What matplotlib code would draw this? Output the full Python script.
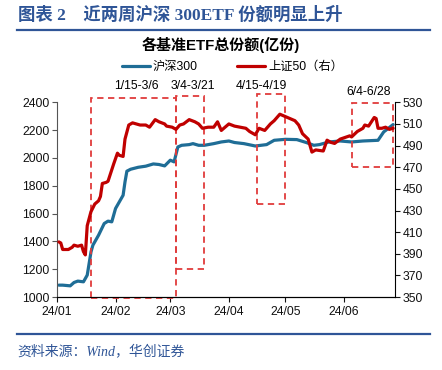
import matplotlib
matplotlib.use("Agg")
import matplotlib.pyplot as plt
import matplotlib.dates as mdates
from matplotlib.patches import Rectangle
import pandas as pd

plt.rcParams['font.family'] = ['Liberation Sans', 'Noto Sans CJK SC']
plt.rcParams['axes.unicode_minus'] = False

# 沪深300 ETF total shares (left axis, 亿份)
hs300_dates = ['2024-01-02', '2024-01-04', '2024-01-08', '2024-01-10', '2024-01-12', '2024-01-15',
               '2024-01-17', '2024-01-19', '2024-01-20', '2024-01-23', '2024-01-26', '2024-01-28',
               '2024-01-30', '2024-02-01', '2024-02-05', '2024-02-06', '2024-02-07', '2024-02-09',
               '2024-02-13', '2024-02-17', '2024-02-21', '2024-02-24', '2024-02-27', '2024-03-01',
               '2024-03-03', '2024-03-05', '2024-03-07', '2024-03-11', '2024-03-13', '2024-03-16',
               '2024-03-19', '2024-03-24', '2024-03-28', '2024-04-01', '2024-04-04', '2024-04-09',
               '2024-04-15', '2024-04-21', '2024-04-25', '2024-05-01', '2024-05-07', '2024-05-12',
               '2024-05-16', '2024-05-19', '2024-05-24', '2024-05-30', '2024-06-05', '2024-06-11',
               '2024-06-19', '2024-06-22', '2024-06-27']
hs300_vals = [1086, 1086, 1081, 1105, 1115, 1110,
              1158, 1325, 1373, 1445, 1529, 1546,
              1541, 1637, 1732, 1828, 1905, 1919,
              1933, 1941, 1957, 1953, 1943, 1984,
              1972, 2079, 2091, 2096, 2103, 2091,
              2091, 2103, 2115, 2122, 2111, 2103,
              2086, 2096, 2127, 2134, 2132, 2111,
              2091, 2096, 2115, 2122, 2115, 2122,
              2127, 2187, 2240]

# 上证50 ETF total shares (right axis, 亿份)
sz50_dates = ['2024-01-02', '2024-01-03', '2024-01-04', '2024-01-07', '2024-01-09', '2024-01-10',
              '2024-01-12', '2024-01-14', '2024-01-15', '2024-01-16', '2024-01-17', '2024-01-19',
              '2024-01-21', '2024-01-23', '2024-01-24', '2024-01-25', '2024-01-27', '2024-01-28',
              '2024-01-31', '2024-02-02', '2024-02-03', '2024-02-05', '2024-02-06', '2024-02-08',
              '2024-02-10', '2024-02-14', '2024-02-17', '2024-02-19', '2024-02-22', '2024-02-24',
              '2024-02-27', '2024-02-28', '2024-03-02', '2024-03-04', '2024-03-06', '2024-03-08',
              '2024-03-11', '2024-03-14', '2024-03-16', '2024-03-18', '2024-03-21', '2024-03-24',
              '2024-03-26', '2024-03-28', '2024-03-30', '2024-04-01', '2024-04-04', '2024-04-07',
              '2024-04-10', '2024-04-12', '2024-04-15', '2024-04-17', '2024-04-20', '2024-04-23',
              '2024-04-25', '2024-04-28', '2024-05-02', '2024-05-06', '2024-05-08', '2024-05-10',
              '2024-05-13', '2024-05-14', '2024-05-15', '2024-05-17', '2024-05-21', '2024-05-23',
              '2024-05-25', '2024-05-27', '2024-05-30', '2024-06-04', '2024-06-05', '2024-06-08',
              '2024-06-11', '2024-06-12', '2024-06-14', '2024-06-17', '2024-06-18', '2024-06-19',
              '2024-06-21', '2024-06-23', '2024-06-25', '2024-06-27']
sz50_vals = [401, 400, 394, 394, 396, 398,
             397, 398, 392, 389, 416, 429,
             436, 439, 443, 455, 456, 457,
             473, 483, 481, 480, 496, 509,
             511, 509, 509, 507, 514, 512,
             510, 508, 507, 505, 509, 510,
             514, 512, 510, 506, 507, 507,
             512, 504, 507, 510, 508, 507,
             506, 503, 500, 506, 504, 510,
             513, 519, 516, 513, 509, 501,
             496, 490, 484, 486, 485, 495,
             493, 492, 496, 499, 498, 503,
             506, 509, 508, 516, 515, 506,
             506, 507, 505, 506]

# highlighted windows: label, start, end, top / bottom (left-axis units)
box_labels = ['1/15-3/6', '3/4-3/21', '4/15-4/19', '6/4-6/28']
box_start = ['2024-01-19', '2024-03-04', '2024-04-16', '2024-06-05']
box_end = ['2024-03-04', '2024-03-19', '2024-05-01', '2024-06-27']
box_top = [2431, 2447, 2462, 2398]
box_bottom = [991, 1201, 1671, 1933]
label_x = ['2024-02-12', '2024-03-13', '2024-04-18', '2024-06-14']
label_y = [2515, 2515, 2515, 2472]

blue = '#1f6d96'
red = '#c00000'
box_red = '#e03c3c'
navy = '#2f5597'

fig = plt.figure(figsize=(4.42, 3.70), dpi=100)
ax = fig.add_axes([0.129, 0.197, 0.7647, 0.5265])
ax2 = ax.twinx()

ax.plot(pd.to_datetime(hs300_dates), hs300_vals, color=blue, lw=2.3, label='沪深300',
        solid_joinstyle='round', solid_capstyle='round')
ax2.plot(pd.to_datetime(sz50_dates), sz50_vals, color=red, lw=2.3, label='上证50（右）',
         solid_joinstyle='round', solid_capstyle='round')

ax.set_xlim(pd.Timestamp('2024-01-01'), pd.Timestamp('2024-06-28'))
ax.set_ylim(1000, 2400)
ax.set_yticks(range(1000, 2401, 200))
ax2.set_ylim(350, 530)
ax2.set_yticks(range(350, 531, 20))
ax.xaxis.set_major_locator(mdates.MonthLocator())
ax.xaxis.set_major_formatter(mdates.DateFormatter('%y/%m'))

for a in (ax, ax2):
    a.spines['top'].set_visible(False)
    a.tick_params(labelsize=8.8, length=3.5, width=0.8, colors='#111111', pad=2)
ax.spines['right'].set_visible(False)
ax.spines['left'].set_color('#555555')
ax2.spines['left'].set_visible(False)
ax2.spines['right'].set_color('black')
ax.tick_params(axis='y', color='#555555')
ax.tick_params(axis='x', pad=3)

for lab, s, e, t, b, lx, ly in zip(box_labels, box_start, box_end, box_top, box_bottom, label_x, label_y):
    x0 = mdates.date2num(pd.Timestamp(s))
    x1 = mdates.date2num(pd.Timestamp(e))
    ax.add_patch(Rectangle((x0, b), x1 - x0, t - b, fill=False, edgecolor=box_red,
                           lw=1.3, linestyle=(0, (3.5, 2.5)), clip_on=False, zorder=5))
    ax.text(pd.Timestamp(lx), ly, lab, ha='center', va='center', fontsize=8.8, clip_on=False)

h1, l1 = ax.get_legend_handles_labels()
h2, l2 = ax2.get_legend_handles_labels()
fig.legend(h1 + h2, l1 + l2, loc='center', bbox_to_anchor=(0.526, 0.819), ncol=2,
           frameon=False, fontsize=8.8, handlelength=2.3, handletextpad=0.25, columnspacing=3.2)

fig.text(0.5, 1 - 45 / 370, '各基准ETF总份额(亿份)', ha='center', va='center',
         fontsize=10.8, fontweight='bold')

fig.text(0.04, 1 - 15 / 370, '图表 2    近两周沪深 300ETF 份额明显上升', ha='left', va='center',
         fontsize=12.5, fontweight='bold', color=navy,
         family=['Liberation Serif', 'Noto Sans CJK SC'])
fig.add_artist(plt.Line2D([0.038, 0.973], [1 - 30 / 370] * 2, color=navy, lw=1.6))
fig.add_artist(plt.Line2D([0.038, 0.973], [1 - 333.5 / 370] * 2, color=navy, lw=1.6))
fig.text(0.04, 1 - 351 / 370, '资料来源：Wind，华创证券', ha='left', va='center',
         fontsize=10, style='italic', color=navy,
         family=['Liberation Serif', 'Noto Sans CJK SC'])

fig.savefig('out.png', dpi=100)
